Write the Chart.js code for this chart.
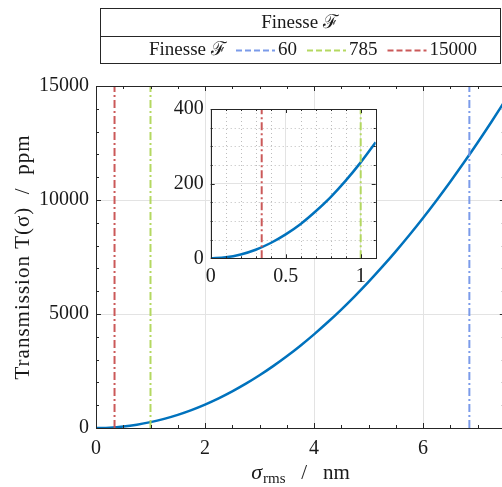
<!DOCTYPE html>
<html>
<head>
<meta charset="utf-8">
<script src="https://cdn.jsdelivr.net/npm/chart.js@4.4.1/dist/chart.umd.min.js"></script>
<style>
    html, body { margin: 0; padding: 0; background: #fff; overflow: hidden; width: 502px; height: 487px; }
    #wrap { position: relative; width: 502px; height: 487px; overflow: hidden; }
    #mainChart { position: absolute; left: 0; top: 0; }
    #insetChart { position: absolute; left: 150px; top: 90px; }
</style>
</head>
<body>
<div id="wrap">
    <canvas id="mainChart" width="510" height="487"></canvas>
    <canvas id="insetChart" width="250" height="200"></canvas>
</div>
<script>
// Transmission vs. rms roughness

// Main curve (sigma in nm, T in ppm)
const sigma = [0, 0.25, 0.5, 0.75, 1, 1.25, 1.5, 1.75, 2, 2.25, 2.5, 2.75, 3, 3.25, 3.5, 3.75,
    4, 4.25, 4.5, 4.75, 5, 5.25, 5.5, 5.75, 6, 6.25, 6.5, 6.75, 7, 7.25, 7.5];
const transmission = [0, 16, 64, 145, 257, 402, 578, 787, 1028, 1301, 1606, 1943, 2312, 2713, 3146, 3611,
    4108, 4636, 5196, 5788, 6410, 7064, 7749, 8466, 9213, 9992, 10801, 11641, 12511, 13412, 14343];

// Inset (zoom on the small roughness region)
const insetSigma = [0, 0.1, 0.2, 0.3, 0.4, 0.5, 0.6, 0.7, 0.8, 0.9, 1.0, 1.1];
const insetTransmission = [0, 2.6, 10.3, 23, 41, 64, 92, 126, 164, 208, 257, 311];

// Finesse markers
const finesseLabels = ['60', '785', '15000'];
const finesseSigma = [6.85, 1.0, 0.34];
const finesseColors = ['rgba(116, 150, 232, 0.95)', 'rgba(176, 214, 88, 0.95)', 'rgba(200, 80, 80, 0.95)'];

const curveColor = '#0072BD';
const axisColor = '#262626';
const gridColor = '#e3e3e3';
const serif = "'Liberation Serif', 'DejaVu Serif', serif";

// Helpers
function toPoints(xs, ys) {
    return xs.map((x, i) => ({ x: x, y: ys[i] }));
}

function eachStep(min, max, step, fn) {
    const n = Math.round((max - min) / step);
    for (let i = 0; i <= n; i++) {
        const v = min + i * step;
        if (v <= max + 1e-9) fn(v);
    }
}

function isMultiple(v, step) {
    const r = v / step;
    return Math.abs(r - Math.round(r)) < 1e-6;
}

// plain numbers, no thousands separator
function plainTick(value) {
    return String(Math.round(value * 1000) / 1000);
}

function finesseDatasets(yMax) {
    return finesseLabels.map((label, i) => ({
        label: label,
        data: [{ x: finesseSigma[i], y: 0 }, { x: finesseSigma[i], y: yMax }],
        borderColor: finesseColors[i],
        borderWidth: 2,
        borderDash: [8, 3, 2, 3],
        pointRadius: 0,
        showLine: true,
        order: 0
    }));
}

// Frame, inward ticks, white background and dotted minor grid
const axesBox = {
    id: 'axesBox',
    beforeDraw(chart, args, opts) {
        if (!opts.fill) return;
        const a = chart.chartArea;
        const ctx = chart.ctx;
        ctx.save();
        ctx.fillStyle = '#fff';
        ctx.fillRect(a.left, a.top, a.right - a.left, a.bottom - a.top);
        ctx.restore();
    },
    beforeDatasetsDraw(chart, args, opts) {
        if (!opts.dotted) return;
        const { ctx, chartArea: a, scales: { x, y } } = chart;
        ctx.save();
        ctx.strokeStyle = '#bdbdbd';
        ctx.lineWidth = 1;
        ctx.setLineDash([1, 3]);
        eachStep(x.min, x.max, opts.xMinor, v => {
            if (isMultiple(v, opts.xMajor)) return;
            const px = Math.round(x.getPixelForValue(v)) + 0.5;
            ctx.beginPath(); ctx.moveTo(px, a.top); ctx.lineTo(px, a.bottom); ctx.stroke();
        });
        eachStep(y.min, y.max, opts.yMinor, v => {
            if (isMultiple(v, opts.yMajor)) return;
            const py = Math.round(y.getPixelForValue(v)) + 0.5;
            ctx.beginPath(); ctx.moveTo(a.left, py); ctx.lineTo(a.right, py); ctx.stroke();
        });
        ctx.restore();
    },
    afterDatasetsDraw(chart, args, opts) {
        const { ctx, chartArea: a, scales: { x, y } } = chart;
        ctx.save();
        ctx.strokeStyle = axisColor;
        ctx.lineWidth = 1;
        ctx.strokeRect(Math.round(a.left) + 0.5, Math.round(a.top) + 0.5,
            Math.round(a.right - a.left), Math.round(a.bottom - a.top));
        ctx.beginPath();
        eachStep(x.min, x.max, opts.xMinor, v => {
            const len = isMultiple(v, opts.xMajor) ? opts.major : opts.minor;
            const px = Math.round(x.getPixelForValue(v)) + 0.5;
            ctx.moveTo(px, a.bottom); ctx.lineTo(px, a.bottom - len);
            ctx.moveTo(px, a.top); ctx.lineTo(px, a.top + len);
        });
        eachStep(y.min, y.max, opts.yMinor, v => {
            const len = isMultiple(v, opts.yMajor) ? opts.major : opts.minor;
            const py = Math.round(y.getPixelForValue(v)) + 0.5;
            ctx.moveTo(a.left, py); ctx.lineTo(a.left + len, py);
            ctx.moveTo(a.right, py); ctx.lineTo(a.right - len, py);
        });
        ctx.stroke();
        ctx.restore();
    }
};

// Axis titles and the boxed legend above the main plot
const mainDecor = {
    id: 'mainDecor',
    afterDraw(chart) {
        const ctx = chart.ctx;
        const a = chart.chartArea;
        ctx.save();
        ctx.fillStyle = '#1a1a1a';
        ctx.textBaseline = 'alphabetic';

        // x title: sigma_rms / nm
        const big = '21px ' + serif;
        const small = '15px ' + serif;
        const italic = 'italic 22px ' + serif;
        const rest = '   /   nm';
        ctx.font = italic; const wSig = ctx.measureText('σ').width;
        ctx.font = small; const wSub = ctx.measureText('rms').width;
        ctx.font = big; const wRest = ctx.measureText(rest).width;
        let tx = 300 - (wSig + wSub + wRest) / 2;
        const ty = 479;
        ctx.font = italic; ctx.fillText('σ', tx, ty); tx += wSig + 1;
        ctx.font = small; ctx.fillText('rms', tx, ty + 4); tx += wSub;
        ctx.font = big; ctx.fillText(rest, tx, ty);

        // y title
        ctx.save();
        ctx.translate(29, (a.top + a.bottom) / 2);
        ctx.rotate(-Math.PI / 2);
        ctx.font = '21px ' + serif;
        ctx.letterSpacing = '1px';
        ctx.textAlign = 'center';
        ctx.fillText('Transmission T(σ)  /  ppm', 0, 0);
        ctx.restore();

        // legend box
        const L = 100.5, R = 500.5, T = 8.5, B = 63.5, D = 36.5;
        ctx.strokeStyle = axisColor;
        ctx.lineWidth = 1;
        ctx.strokeRect(L, T, R - L, B - T);
        ctx.beginPath(); ctx.moveTo(L, D); ctx.lineTo(R, D); ctx.stroke();

        ctx.font = '19px ' + serif;
        ctx.textAlign = 'center';
        ctx.fillText('Finesse ℱ', 300, 28);

        ctx.textAlign = 'left';
        ctx.fillText('Finesse ℱ', 149, 55);
        let lx = 236;
        const ly = 50.5;
        chart.data.datasets.forEach(ds => {
            if (!finesseLabels.includes(ds.label)) return;
            ctx.strokeStyle = ds.borderColor;
            ctx.lineWidth = 2;
            ctx.setLineDash([6, 3]);
            ctx.beginPath(); ctx.moveTo(lx, ly); ctx.lineTo(lx + 39, ly); ctx.stroke();
            ctx.setLineDash([]);
            lx += 42;
            ctx.fillText(ds.label, lx, 55);
            lx += ctx.measureText(ds.label).width + 10;
        });
        ctx.restore();
    }
};

// Draw charts
function initializeCharts() {
    const tickFont = { family: serif, size: 20 };

    new Chart(document.getElementById('mainChart').getContext('2d'), {
        type: 'scatter',
        data: {
            datasets: [{
                label: 'T',
                data: toPoints(sigma, transmission),
                borderColor: curveColor,
                borderWidth: 2.5,
                pointRadius: 0,
                showLine: true,
                cubicInterpolationMode: 'monotone',
                order: 1
            }].concat(finesseDatasets(15000))
        },
        options: {
            responsive: false,
            devicePixelRatio: 1,
            animation: false,
            layout: { padding: { left: 0, top: 86, right: 5.2, bottom: 0 } },
            plugins: {
                legend: { display: false },
                tooltip: { enabled: false },
                axesBox: { xMinor: 0.5, xMajor: 2, yMinor: 1000, yMajor: 5000, major: 5, minor: 3 }
            },
            scales: {
                x: {
                    type: 'linear', min: 0, max: 7.5,
                    afterFit(scale) { scale.height = 59; },
                    grid: { color: gridColor, drawTicks: false },
                    border: { display: false },
                    ticks: { stepSize: 2, includeBounds: false, padding: 9, color: '#1a1a1a', font: tickFont, callback: plainTick }
                },
                y: {
                    min: 0, max: 15000,
                    afterFit(scale) { scale.width = 96; },
                    grid: { color: gridColor, drawTicks: false },
                    border: { display: false },
                    ticks: { stepSize: 5000, padding: 7, color: '#1a1a1a', font: tickFont, callback: plainTick }
                }
            }
        },
        plugins: [axesBox, mainDecor]
    });

    new Chart(document.getElementById('insetChart').getContext('2d'), {
        type: 'scatter',
        data: {
            datasets: [{
                label: 'T',
                data: toPoints(insetSigma, insetTransmission),
                borderColor: curveColor,
                borderWidth: 2.5,
                pointRadius: 0,
                showLine: true,
                cubicInterpolationMode: 'monotone',
                order: 1
            }].concat(finesseDatasets(400))
        },
        options: {
            responsive: false,
            devicePixelRatio: 1,
            animation: false,
            layout: { padding: { left: 0, top: 15, right: 24.3, bottom: 0 } },
            plugins: {
                legend: { display: false },
                tooltip: { enabled: false },
                axesBox: { fill: true, dotted: true, xMinor: 0.1, xMajor: 0.5, yMinor: 50, yMajor: 200, major: 4, minor: 2 }
            },
            scales: {
                x: {
                    type: 'linear', min: 0, max: 1.1,
                    afterFit(scale) { scale.height = 31.7; },
                    grid: { color: gridColor, drawTicks: false },
                    border: { display: false },
                    ticks: { stepSize: 0.5, includeBounds: false, padding: 6, color: '#1a1a1a', font: tickFont, callback: plainTick }
                },
                y: {
                    min: 0, max: 400,
                    afterFit(scale) { scale.width = 60.7; },
                    grid: { color: gridColor, drawTicks: false },
                    border: { display: false },
                    ticks: { stepSize: 200, padding: 7, color: '#1a1a1a', font: tickFont, callback: plainTick }
                }
            }
        },
        plugins: [axesBox]
    });
}

initializeCharts();
</script>
</body>
</html>
